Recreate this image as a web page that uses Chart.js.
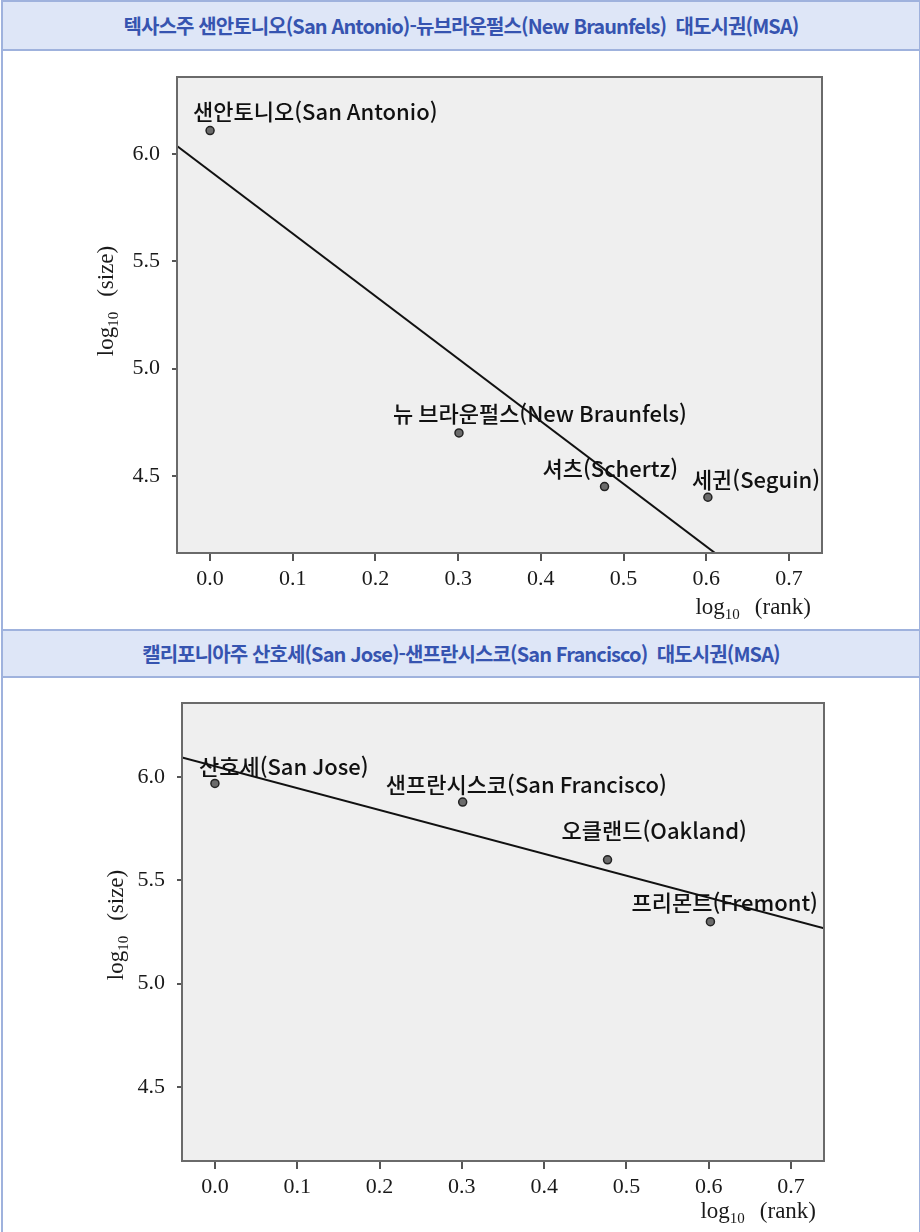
<!DOCTYPE html>
<html lang="ko">
<head>
<meta charset="utf-8">
<script src="https://cdn.jsdelivr.net/npm/chart.js@4.4.1/dist/chart.umd.min.js"></script>
<style>
  html, body { margin: 0; padding: 0; background: #fff; }
  #page { position: relative; width: 920px; height: 1232px; overflow: hidden; }
  .frame { position: absolute; left: 1px; top: 0; width: 916px; height: 1232px;
           border-left: 2px solid #9fb2dd; border-right: 2px solid #9fb2dd; }
  .hdr { position: absolute; left: 1px; width: 916px; background: #dee6f7;
         border: 2px solid #9fb2dd;
         color: #3654b0; font-family: "Noto Sans CJK KR", sans-serif; font-weight: 700;
         font-size: 20px; text-align: center; letter-spacing: -0.9px; white-space: pre; }
  .panel { position: absolute; left: 0; width: 920px; }
</style>
</head>
<body>
<div id="page">
  <div class="frame"></div>
  <div class="hdr" style="top:0; height:47px; line-height:47px;">텍사스주 샌안토니오(San Antonio)-뉴브라운펄스(New Braunfels)  대도시권(MSA)</div>
  <div class="panel" style="top:50px; height:580px;"><canvas id="chartTexas" width="920" height="580"></canvas></div>
  <div class="hdr" style="top:629px; height:45px; line-height:45px;">캘리포니아주 산호세(San Jose)-샌프란시스코(San Francisco)  대도시권(MSA)</div>
  <div class="panel" style="top:677px; height:555px;"><canvas id="chartCalif" width="920" height="555"></canvas></div>
</div>
<script>
// 축 눈금
const xTicks = [0.0, 0.1, 0.2, 0.3, 0.4, 0.5, 0.6, 0.7];
const yTicks = [4.5, 5.0, 5.5, 6.0];
const xRange = [-0.04, 0.74];
const yRange = [4.14, 6.36];

// 텍사스 대도시권
const texasCities = ['샌안토니오(San Antonio)', '뉴 브라운펄스(New Braunfels)', '셔츠(Schertz)', '세귄(Seguin)'];
const texasLogRank = [0.0, 0.301, 0.477, 0.602];
const texasLogSize = [6.11, 4.70, 4.45, 4.40];

// 캘리포니아 대도시권
const califCities = ['산호세(San Jose)', '샌프란시스코(San Francisco)', '오클랜드(Oakland)', '프리몬트(Fremont)'];
const califLogRank = [0.0, 0.301, 0.477, 0.602];
const califLogSize = [5.97, 5.88, 5.60, 5.30];

const SERIF = '"Liberation Serif", "Times New Roman", serif';
const SANS = '"Noto Sans CJK KR", sans-serif';

// 최소제곱 회귀선
function fitLine(xs, ys) {
  const n = xs.length;
  const mx = xs.reduce((a, b) => a + b, 0) / n;
  const my = ys.reduce((a, b) => a + b, 0) / n;
  let sxy = 0, sxx = 0;
  for (let i = 0; i < n; i++) {
    sxy += (xs[i] - mx) * (ys[i] - my);
    sxx += (xs[i] - mx) * (xs[i] - mx);
  }
  const slope = sxy / sxx;
  return { slope, intercept: my - slope * mx };
}

// log10 (xxx) 축 제목 그리기
function drawLogTitle(ctx, x, y, word, rotated, alignRight) {
  const big = 23, small = 15, gap = 15;
  ctx.save();
  ctx.fillStyle = '#1a1a1a';
  ctx.textBaseline = 'alphabetic';
  ctx.font = big + 'px ' + SERIF;
  const wLog = ctx.measureText('log').width;
  const wWord = ctx.measureText(word).width;
  ctx.font = small + 'px ' + SERIF;
  const wSub = ctx.measureText('10').width;
  const total = wLog + wSub + gap + wWord;
  ctx.translate(x, y);
  if (rotated) ctx.rotate(-Math.PI / 2);
  const sx = alignRight ? -total : -total / 2;
  const base = 7;
  ctx.font = big + 'px ' + SERIF;
  ctx.fillText('log', sx, base);
  ctx.font = small + 'px ' + SERIF;
  ctx.fillText('10', sx + wLog, base + 5);
  ctx.font = big + 'px ' + SERIF;
  ctx.fillText(word, sx + wLog + wSub + gap, base);
  ctx.restore();
}

function makeChart(id, cities, xs, ys, labelDx, labelDy, pad, titles) {
  const fit = fitLine(xs, ys);
  const points = xs.map((x, i) => ({ x: x, y: ys[i] }));
  const fitPoints = xRange.map(x => ({ x: x, y: fit.intercept + fit.slope * x }));

  const plotBox = {
    id: 'plotBox',
    beforeDraw(chart) {
      const a = chart.chartArea, ctx = chart.ctx;
      ctx.save();
      ctx.fillStyle = '#efefef';
      ctx.fillRect(a.left, a.top, a.right - a.left, a.bottom - a.top);
      ctx.restore();
    },
    beforeDatasetsDraw(chart) {
      // 점 라벨 (회귀선 아래에 깔리도록 먼저 그림)
      const ctx = chart.ctx;
      const meta = chart.getDatasetMeta(1);
      ctx.save();
      ctx.font = '500 22px ' + SANS;
      ctx.fillStyle = '#111';
      ctx.textAlign = 'left';
      ctx.textBaseline = 'middle';
      meta.data.forEach((pt, i) => {
        ctx.fillText(cities[i], pt.x + labelDx[i], pt.y + labelDy[i]);
      });
      ctx.restore();
    },
    afterDraw(chart) {
      const a = chart.chartArea, ctx = chart.ctx;
      ctx.save();
      ctx.strokeStyle = '#6a6a6a';
      ctx.lineWidth = 2;
      ctx.strokeRect(a.left, a.top, a.right - a.left, a.bottom - a.top);
      ctx.restore();
      drawLogTitle(ctx, titles.yx, titles.yy, '(size)', true, false);
      drawLogTitle(ctx, titles.xx, titles.xy, '(rank)', false, true);
    }
  };

  return new Chart(document.getElementById(id), {
    data: {
      datasets: [
        {
          type: 'line',
          data: fitPoints,
          borderColor: '#111',
          borderWidth: 2,
          pointRadius: 0,
          fill: false
        },
        {
          type: 'scatter',
          data: points,
          backgroundColor: '#6b6b6b',
          borderColor: '#222',
          borderWidth: 1.5,
          pointRadius: 4
        }
      ]
    },
    options: {
      responsive: false,
      animation: false,
      layout: { padding: pad },
      plugins: { legend: { display: false }, tooltip: { enabled: false } },
      scales: {
        x: {
          type: 'linear',
          min: xRange[0],
          max: xRange[1],
          afterBuildTicks: s => { s.ticks = xTicks.map(v => ({ value: v })); },
          afterFit: s => { s.height = 60; },
          border: { color: '#555', width: 2 },
          grid: { drawOnChartArea: false, color: '#555', lineWidth: 2, tickLength: 8 },
          ticks: {
            color: '#1a1a1a',
            padding: 5,
            maxRotation: 0,
            font: { family: SERIF, size: 22 },
            callback: v => v.toFixed(1)
          }
        },
        y: {
          type: 'linear',
          min: yRange[0],
          max: yRange[1],
          afterBuildTicks: s => { s.ticks = yTicks.map(v => ({ value: v })); },
          afterFit: s => { s.width = 100; },
          border: { color: '#555', width: 2 },
          grid: { drawOnChartArea: false, color: '#555', lineWidth: 2, tickLength: 5 },
          ticks: {
            color: '#1a1a1a',
            padding: 12,
            font: { family: SERIF, size: 22 },
            callback: v => v.toFixed(1)
          }
        }
      }
    },
    plugins: [plotBox]
  });
}

makeChart('chartTexas', texasCities, texasLogRank, texasLogSize,
  [-17, -66, -62, -16], [-19, -19, -18, -18],
  { left: 77, right: 98, top: 27, bottom: 17 },
  { yx: 106, yy: 251, xx: 811, xy: 557 });

makeChart('chartCalif', califCities, califLogRank, califLogSize,
  [-16, -77, -46, -79], [-17, -17, -29, -19],
  { left: 82, right: 96, top: 26, bottom: 11 },
  { yx: 116, yy: 248, xx: 816, xy: 534 });
</script>
</body>
</html>
